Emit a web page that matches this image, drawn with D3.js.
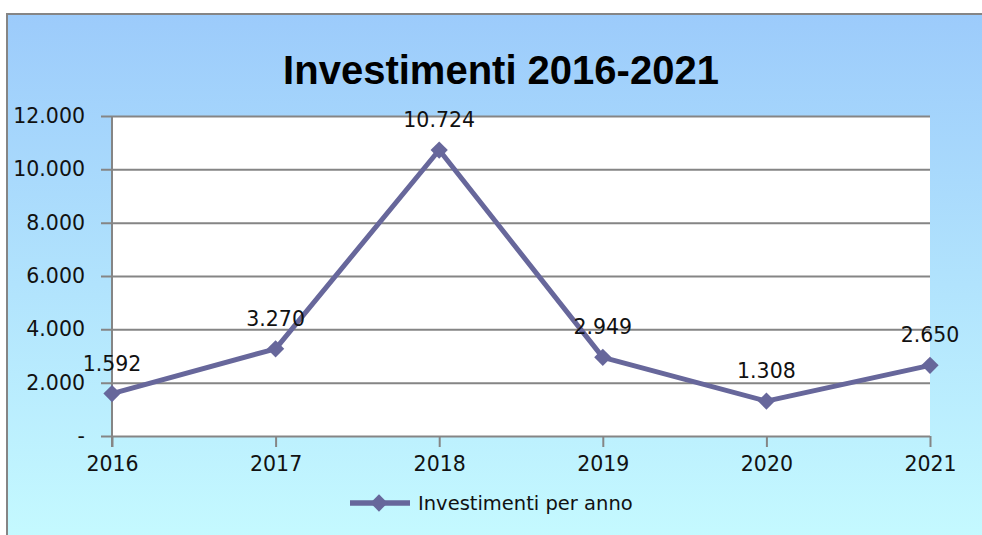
<!DOCTYPE html>
<html>
<head>
<meta charset="utf-8">
<script src="https://cdn.jsdelivr.net/npm/d3@7"></script>
<style>
  html, body { margin: 0; padding: 0; background: #fff; }
  svg { display: block; }
</style>
</head>
<body>
<svg id="scene" width="982" height="535"></svg>
<script>
// data
const years = ['2016', '2017', '2018', '2019', '2020', '2021'];
const investimenti = [1592, 3270, 10724, 2949, 1308, 2650];
const yTicks = [0, 2000, 4000, 6000, 8000, 10000, 12000];
const seriesName = 'Investimenti per anno';
const title = 'Investimenti 2016-2021';

const lineColor = '#67679b';
const gridColor = '#858585';
const font = '"DejaVu Sans", sans-serif';

const it = d3.formatLocale({ decimal: ',', thousands: '.', grouping: [3], currency: ['€', ''] });
const fmt = (v) => (v === 0 ? '-' : it.format(',')(v));

let svg = d3.select('#scene');

let scaleX = d3.scalePoint().domain(years).range([112, 930]);
let scaleY = d3.scaleLinear().domain([0, 12000]).range([436, 116]);

// background
let grad = svg.append('defs').append('linearGradient')
	.attr('id', 'bg').attr('x1', 0).attr('y1', 0).attr('x2', 0).attr('y2', 1);
grad.append('stop').attr('offset', '0%').attr('stop-color', '#9ccbfb');
grad.append('stop').attr('offset', '100%').attr('stop-color', '#c6fbff');

svg.append('rect')
	.attr('x', 7).attr('y', 14).attr('width', 990).attr('height', 540)
	.attr('fill', 'url(#bg)')
	.attr('stroke', '#858585').attr('stroke-width', 2);

// title
svg.append('text')
	.attr('x', 501).attr('y', 84)
	.attr('text-anchor', 'middle')
	.attr('font-family', '"Liberation Sans", Arial, sans-serif')
	.attr('font-weight', 'bold')
	.attr('font-size', 40)
	.attr('fill', '#000')
	.text(title);

// plot area
svg.append('rect')
	.attr('x', 112).attr('y', 116)
	.attr('width', 930 - 112).attr('height', 436 - 116)
	.attr('fill', '#fff');

// y axis with gridlines
let yAxis = svg.append('g')
	.attr('transform', 'translate(112,0)')
	.call(d3.axisLeft(scaleY).tickValues(yTicks).tickFormat(fmt)
		.tickSize(-(930 - 112)).tickPadding(16));
yAxis.select('.domain').remove();
yAxis.selectAll('.tick line')
	.attr('x1', -11)
	.attr('stroke', gridColor).attr('stroke-width', 2);
yAxis.selectAll('.tick text')
	.attr('x', -27)
	.attr('font-family', font).attr('font-size', 20.5).attr('fill', '#111');

// x axis
let xAxis = svg.append('g')
	.attr('transform', 'translate(0,436)')
	.call(d3.axisBottom(scaleX).tickSize(11).tickPadding(9));
xAxis.select('.domain').remove();
xAxis.selectAll('.tick line').attr('stroke', gridColor).attr('stroke-width', 2);
xAxis.selectAll('.tick text')
	.attr('font-family', font).attr('font-size', 20.5).attr('fill', '#111');

// left axis line
svg.append('line')
	.attr('x1', 112).attr('x2', 112)
	.attr('y1', scaleY(12000)).attr('y2', 447)
	.attr('stroke', gridColor).attr('stroke-width', 2);

// series
let data = years.map((y, i) => ({ year: y, value: investimenti[i] }));

let line = d3.line()
	.x((d) => scaleX(d.year))
	.y((d) => scaleY(d.value));

svg.append('path')
	.datum(data)
	.attr('d', line)
	.attr('fill', 'none')
	.attr('stroke', lineColor)
	.attr('stroke-width', 5)
	.attr('stroke-linejoin', 'round');

let diamond = d3.symbol().type(d3.symbolDiamond2).size(190);

svg.selectAll('path.marker')
	.data(data)
	.enter().append('path')
	.attr('class', 'marker')
	.attr('d', diamond)
	.attr('transform', (d) => 'translate(' + scaleX(d.year) + ',' + scaleY(d.value) + ')')
	.attr('fill', lineColor);

svg.selectAll('text.label')
	.data(data)
	.enter().append('text')
	.attr('class', 'label')
	.attr('x', (d) => scaleX(d.year))
	.attr('y', (d) => scaleY(d.value) - 23)
	.attr('text-anchor', 'middle')
	.attr('font-family', font).attr('font-size', 20.5).attr('fill', '#111')
	.text((d) => fmt(d.value));

// legend
let legend = svg.append('g').attr('transform', 'translate(350,503)');
legend.append('line')
	.attr('x1', 0).attr('x2', 60)
	.attr('stroke', lineColor).attr('stroke-width', 5.5);
legend.append('path')
	.attr('d', diamond)
	.attr('transform', 'translate(29,0)')
	.attr('fill', lineColor);
legend.append('text')
	.attr('x', 68).attr('y', 7)
	.attr('font-family', font).attr('font-size', 19.5).attr('fill', '#111')
	.text(seriesName);
</script>
</body>
</html>
